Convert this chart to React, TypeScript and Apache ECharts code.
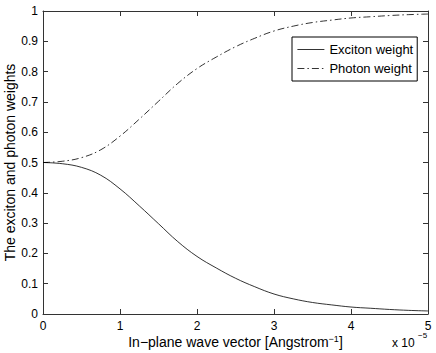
import React, { useEffect, useRef } from "react";
import * as echarts from "echarts";

const waveVector = [0, 0.25, 0.5, 0.75, 1, 1.25, 1.5, 1.75, 2, 2.25, 2.5, 2.75, 3, 3.25, 3.5, 3.75, 4, 4.25, 4.5, 4.75, 5];
const excitonWeight = [0.5, 0.496, 0.484, 0.458, 0.413, 0.357, 0.298, 0.239, 0.19, 0.152, 0.118, 0.09, 0.066, 0.05, 0.038, 0.03, 0.023, 0.019, 0.015, 0.012, 0.01];
const photonWeight = [0.5, 0.504, 0.516, 0.542, 0.587, 0.643, 0.702, 0.761, 0.81, 0.848, 0.882, 0.91, 0.934, 0.95, 0.962, 0.97, 0.977, 0.981, 0.985, 0.988, 0.99];
const seriesNames = ["Exciton weight", "Photon weight"];

const FONT = "Liberation Sans, Arial, Helvetica, sans-serif";
const AXIS = "#333";

export default function App() {
  const ref = useRef<HTMLDivElement>(null);
  useEffect(() => {
    const chart = echarts.init(ref.current!, null, { renderer: "svg" });
    const tickStyle = { show: true, inside: true, length: 5, lineStyle: { color: AXIS, width: 1 } };
    chart.setOption({
      animation: false,
      backgroundColor: "#fff",
      textStyle: { fontFamily: FONT },
      grid: { left: 43, right: 8, top: 11, bottom: 39, containLabel: false, outerBoundsMode: "none" },
      legend: {
        left: 292,
        top: 37,
        orient: "vertical",
        itemWidth: 27,
        itemHeight: 14,
        itemGap: 6,
        padding: [6, 4, 6, 5],
        backgroundColor: "#fff",
        borderColor: "#000",
        borderWidth: 1,
        borderRadius: 0,
        itemStyle: { opacity: 0 },
        lineStyle: { width: 0.8 },
        textStyle: { fontFamily: FONT, fontSize: 13, color: "#000" },
        data: seriesNames,
      },
      xAxis: [
        {
          type: "value",
          min: 0,
          max: 5,
          interval: 1,
          axisLine: { show: true, onZero: false, lineStyle: { color: AXIS, width: 1 } },
          axisTick: tickStyle,
          splitLine: { show: false },
          axisLabel: { margin: 6, fontSize: 12, color: "#000", fontFamily: FONT },
          name: "In\u2212plane wave vector [Angstrom{s|\u22121}]",
          nameLocation: "middle",
          nameGap: 20,
          nameMoveOverlap: false,
          nameTextStyle: {
            fontSize: 14,
            color: "#000",
            fontFamily: FONT,
            rich: { s: { fontSize: 9, fontFamily: FONT, color: "#000", verticalAlign: "top", padding: [0, 0, 7, 0] } },
          },
        },
        {
          type: "value",
          position: "top",
          min: 0,
          max: 5,
          interval: 1,
          axisLine: { show: true, onZero: false, lineStyle: { color: AXIS, width: 1 } },
          axisTick: tickStyle,
          axisLabel: { show: false },
          splitLine: { show: false },
        },
      ],
      yAxis: [
        {
          type: "value",
          min: 0,
          max: 1,
          interval: 0.1,
          axisLine: { show: true, onZero: false, lineStyle: { color: AXIS, width: 1 } },
          axisTick: tickStyle,
          splitLine: { show: false },
          axisLabel: { margin: 5, fontSize: 12, color: "#000", fontFamily: FONT },
          name: "The exciton and photon weights",
          nameLocation: "middle",
          nameGap: 26,
          nameMoveOverlap: false,
          nameTextStyle: { fontSize: 14, color: "#000", fontFamily: FONT },
        },
        {
          type: "value",
          position: "right",
          min: 0,
          max: 1,
          interval: 0.1,
          axisLine: { show: true, onZero: false, lineStyle: { color: AXIS, width: 1 } },
          axisTick: tickStyle,
          axisLabel: { show: false },
          splitLine: { show: false },
        },
      ],
      graphic: [
        { type: "text", left: 392, top: 337, style: { text: "x 10", fontSize: 12, fill: "#000", fontFamily: FONT } },
        { type: "text", left: 418, top: 331, style: { text: "\u22125", fontSize: 8, fill: "#000", fontFamily: FONT } },
      ],
      series: [
        {
          name: seriesNames[0],
          type: "line",
          data: waveVector.map((k, i) => [k, excitonWeight[i]]),
          symbol: "none",
          smooth: 0.4,
          lineStyle: { color: "#000", width: 0.8, type: "solid" },
          itemStyle: { color: "#000" },
        },
        {
          name: seriesNames[1],
          type: "line",
          data: waveVector.map((k, i) => [k, photonWeight[i]]),
          symbol: "none",
          smooth: 0.4,
          lineStyle: { color: "#000", width: 0.8, type: [7, 3, 1.5, 3] },
          itemStyle: { color: "#000" },
        },
      ],
    });
    return () => chart.dispose();
  }, []);
  return <div ref={ref} style={{ width: 436, height: 353, position: "absolute", left: 0, top: 0 }} />;
}
